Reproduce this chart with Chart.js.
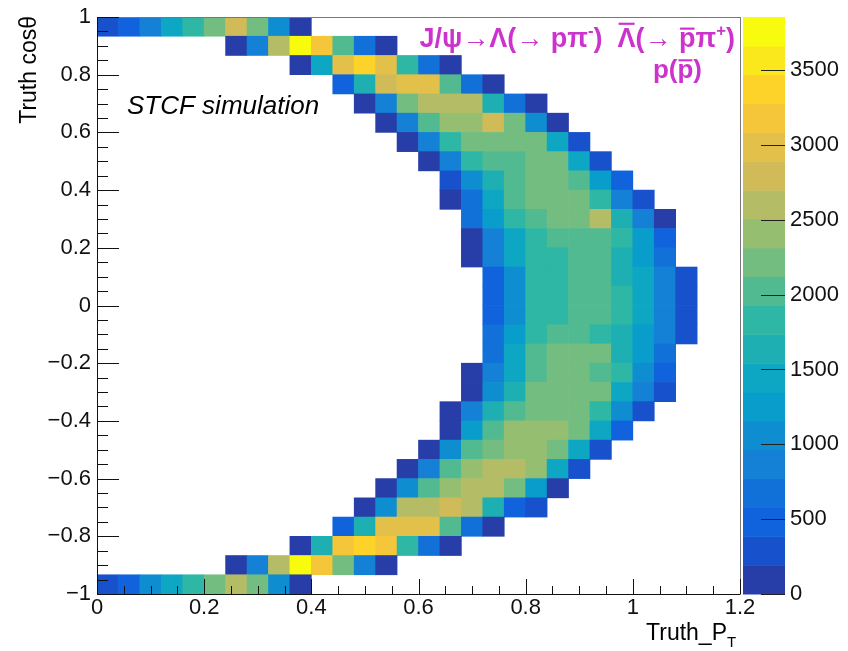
<!DOCTYPE html>
<html>
<head>
<meta charset="utf-8">
<script src="https://cdn.jsdelivr.net/npm/chart.js@4.4.0/dist/chart.umd.min.js"></script>
<style>
  html, body { margin: 0; padding: 0; background: #fff; }
</style>
</head>
<body>
<canvas id="histo" width="848" height="651"></canvas>
<script>
// histogram binning
const xMin = 0, xMax = 1.2, nX = 30;
const yMin = -1, yMax = 1, nY = 30;
const xTicks = [0, 0.2, 0.4, 0.6, 0.8, 1, 1.2];
const yTicks = [-1, -0.8, -0.6, -0.4, -0.2, 0, 0.2, 0.4, 0.6, 0.8, 1];
const zTicks = [0, 500, 1000, 1500, 2000, 2500, 3000, 3500];

// first filled P_T bin of every cos(theta) row, top row (cos near 1) first
const firstBin = [0, 6, 9, 11, 12, 13, 14, 15, 16, 16, 17, 17, 17, 18, 18,
                  18, 18, 18, 17, 17, 16, 16, 15, 14, 13, 12, 11, 9, 6, 0];

// bin contents of every row, starting at firstBin
const rowCounts = [
  [300, 480, 870, 1450, 1850, 2200, 2850, 2200, 1000, 100],
  [100, 900, 2600, 3855, 3100, 2050, 700, 120],
  [120, 1500, 3050, 3400, 3050, 1750, 650, 120],
  [400, 1650, 2850, 3050, 3050, 2050, 750, 130],
  [130, 950, 2250, 2550, 2600, 2550, 1650, 650, 140],
  [130, 950, 2000, 2400, 2450, 2700, 2250, 1000, 150],
  [140, 950, 1800, 2150, 2300, 2250, 2200, 1450, 200],
  [150, 950, 1750, 2050, 1950, 2250, 2250, 1350, 200],
  [350, 1100, 1700, 2050, 2250, 2250, 2000, 1300, 400],
  [120, 600, 1500, 1950, 2150, 2250, 2150, 1800, 950, 200],
  [700, 1200, 1850, 2100, 2150, 2150, 2550, 1600, 850, 150],
  [150, 900, 1500, 1900, 2050, 2050, 2050, 1800, 1200, 400],
  [160, 800, 1350, 1850, 1850, 2050, 2050, 1700, 1300, 650],
  [450, 1150, 1800, 1850, 1950, 2050, 1700, 1400, 900, 200],
  [450, 1150, 1800, 1850, 1950, 2050, 1750, 1450, 950, 200],
  [450, 1100, 1800, 1850, 1950, 2050, 1750, 1400, 900, 200],
  [700, 1300, 1850, 2050, 2050, 1800, 1700, 1300, 850, 200],
  [700, 1350, 1950, 2150, 2150, 2150, 1700, 1300, 700],
  [150, 900, 1500, 2050, 2150, 2150, 2050, 1850, 1050, 450],
  [150, 1000, 1650, 2200, 2250, 2250, 2150, 1450, 800, 200],
  [150, 800, 1700, 2050, 2150, 2150, 2150, 1850, 1000, 200],
  [150, 1200, 2050, 2350, 2350, 2350, 2150, 1450, 400],
  [150, 1000, 2050, 2250, 2350, 2350, 2250, 1400, 350],
  [150, 900, 1950, 2350, 2600, 2600, 2350, 1450, 300],
  [150, 1000, 2050, 2350, 2650, 2650, 2250, 1200, 150],
  [150, 1000, 2550, 2650, 2850, 2650, 1700, 550, 250],
  [400, 1700, 2950, 3050, 3050, 2050, 750, 150],
  [150, 1600, 3200, 3450, 3200, 1750, 650, 150],
  [150, 950, 2550, 3780, 3100, 2150, 850, 150],
  [300, 480, 1000, 1450, 1850, 2300, 2650, 2300, 1000, 150]
];

// kBird palette, 20 contour levels like ROOT's COLZ
const birdR = [0.2082, 0.0592, 0.0780, 0.0232, 0.1802, 0.5301, 0.8186, 0.9956, 0.9764];
const birdG = [0.1664, 0.3599, 0.5041, 0.6419, 0.7178, 0.7492, 0.7328, 0.7862, 0.9832];
const birdB = [0.5293, 0.8684, 0.8385, 0.7914, 0.6425, 0.4662, 0.3499, 0.1968, 0.0539];
const nLevels = 20;
const FONT = "'Liberation Sans', Arial, Helvetica, sans-serif";

const dx = (xMax - xMin) / nX;
const dy = (yMax - yMin) / nY;
const zMax = Math.max(...rowCounts.flat());

function birdColor(f) {
  const s = f * (birdR.length - 1);
  const i = Math.min(Math.floor(s), birdR.length - 2);
  const t = s - i;
  const mix = (arr) => Math.round(255 * (arr[i] + (arr[i + 1] - arr[i]) * t));
  return `rgb(${mix(birdR)},${mix(birdG)},${mix(birdB)})`;
}

function levelColor(b) {
  return birdColor(Math.floor((b + 0.99) * 255 / nLevels) / 254);
}

function cellColor(v) {
  return levelColor(Math.min(Math.floor(v / zMax * nLevels), nLevels - 1));
}

// one floating bar per filled bin
const cells = [];
rowCounts.forEach((row, r) => {
  const top = yMax - r * dy;
  row.forEach((v, k) => {
    const col = firstBin[r] + k;
    cells.push({ x: xMin + (col + 0.5) * dx, y: [top - dy, top], v: v });
  });
});

function fmt(v) {
  if (Math.abs(v) < 1e-9) return "0";
  return String(+v.toFixed(1)).replace("-", "\u2212");
}

// draw a run of text pieces, right aligned at x: [text, kind], kind "", "sup" or "bar"
function drawRich(ctx, parts, x, y, size, bold) {
  const weight = bold ? "bold " : "";
  const widths = parts.map(([t, kind]) => {
    ctx.font = weight + (kind === "sup" ? size * 0.62 : size) + "px " + FONT;
    return ctx.measureText(t).width;
  });
  const total = widths.reduce((a, b) => a + b, 0);
  let cx = x - total;
  ctx.textAlign = "left";
  ctx.textBaseline = "alphabetic";
  parts.forEach(([t, kind], i) => {
    ctx.font = weight + (kind === "sup" ? size * 0.62 : size) + "px " + FONT;
    const yy = kind === "sup" ? y - size * 0.42 : y;
    ctx.fillText(t, cx, yy);
    if (kind === "bar") {
      const h = /[a-z]/.test(t) ? size * 0.56 : size * 0.74;
      ctx.fillRect(cx + 1, y - h - size * 0.16, widths[i] - 2, Math.max(2, size * 0.08));
    }
    cx += widths[i];
  });
}

const rootFrame = {
  id: "rootFrame",
  afterDatasetsDraw(chart) {
    const { ctx, chartArea: a, scales: { x, y, z } } = chart;
    ctx.save();
    // frame
    ctx.strokeStyle = "#777";
    ctx.lineWidth = 1;
    ctx.strokeRect(a.left + 0.5, a.top + 0.5, a.right - a.left, a.bottom - a.top);
    ctx.strokeStyle = "#111";
    ctx.beginPath();
    ctx.moveTo(a.left + 0.5, a.top);
    ctx.lineTo(a.left + 0.5, a.bottom + 0.5);
    ctx.lineTo(a.right, a.bottom + 0.5);
    ctx.stroke();
    // ticks drawn inside, ROOT style
    ctx.beginPath();
    for (let i = 0; i <= 24; i++) {
      const px = Math.round(x.getPixelForValue(xMin + i * 0.05)) + 0.5;
      const len = i % 4 === 0 ? 15 : 8;
      ctx.moveTo(px, a.bottom);
      ctx.lineTo(px, a.bottom - len);
    }
    for (let i = 0; i <= 40; i++) {
      const py = Math.round(y.getPixelForValue(yMin + i * 0.05)) + 0.5;
      const len = i % 4 === 0 ? 22 : 11;
      ctx.moveTo(a.left, py);
      ctx.lineTo(a.left + len, py);
    }
    ctx.stroke();
    // colour palette
    const x0 = a.right + 3, x1 = a.right + 45;
    for (let b = 0; b < nLevels; b++) {
      const yb = z.getPixelForValue(b * zMax / nLevels);
      const yt = z.getPixelForValue((b + 1) * zMax / nLevels);
      ctx.fillStyle = levelColor(b);
      ctx.fillRect(x0, yt, x1 - x0, yb - yt + 0.5);
    }
    ctx.strokeStyle = "#222";
    ctx.beginPath();
    zTicks.forEach((v) => {
      const py = Math.round(z.getPixelForValue(v)) + 0.5;
      ctx.moveTo(x1 - 24, py);
      ctx.lineTo(x1, py);
    });
    ctx.stroke();
    ctx.restore();
  },
  afterDraw(chart) {
    const { ctx, chartArea: a } = chart;
    ctx.save();
    ctx.fillStyle = "#000";
    // y title, aligned to the top end of the axis
    ctx.translate(36, a.top - 1);
    ctx.rotate(-Math.PI / 2);
    ctx.font = "23px " + FONT;
    ctx.textAlign = "right";
    ctx.textBaseline = "alphabetic";
    ctx.fillText("Truth cos\u03b8", 0, 0);
    ctx.restore();

    ctx.save();
    ctx.fillStyle = "#000";
    drawRich(ctx, [["Truth_P", ""]], a.right - 13, 640, 23, false);
    ctx.font = "15px " + FONT;
    ctx.textAlign = "left";
    ctx.fillText("T", a.right - 13, 647);

    ctx.font = "italic 26px " + FONT;
    ctx.textAlign = "left";
    ctx.fillText("STCF simulation", 127, 114);

    ctx.fillStyle = "#cc33cc";
    drawRich(ctx, [
      ["J/\u03c8\u2192\u039b(\u2192 p\u03c0", ""], ["-", "sup"], [")  ", ""],
      ["\u039b", "bar"], ["(\u2192 ", ""], ["p", "bar"], ["\u03c0", ""], ["+", "sup"], [")", ""]
    ], a.right - 5, 47, 27, true);
    drawRich(ctx, [["p(", ""], ["p", "bar"], [")", ""]], 702, 78, 26, true);
    ctx.restore();
  }
};

new Chart(document.getElementById("histo"), {
  type: "bar",
  data: {
    datasets: [{
      data: cells,
      backgroundColor: (c) => (c.raw ? cellColor(c.raw.v) : "#fff"),
      borderWidth: 0,
      barPercentage: 1,
      categoryPercentage: 1
    }]
  },
  options: {
    responsive: false,
    animation: false,
    layout: { padding: { top: 17, left: 0, right: 0, bottom: 0 } },
    plugins: { legend: { display: false }, tooltip: { enabled: false } },
    scales: {
      x: {
        type: "linear", min: xMin, max: xMax, offset: false,
        grid: { display: false, drawTicks: true, tickLength: 1 },
        border: { display: false },
        afterBuildTicks: (s) => { s.ticks = xTicks.map((v) => ({ value: v })); },
        ticks: { callback: fmt, padding: 0, color: "#111", maxRotation: 0,
                 font: { family: FONT, size: 22 } },
        afterFit: (s) => { s.height = 57; }
      },
      y: {
        type: "linear", min: yMin, max: yMax,
        grid: { display: false, drawTicks: true, tickLength: 6 },
        border: { display: false },
        afterBuildTicks: (s) => { s.ticks = yTicks.map((v) => ({ value: v })); },
        ticks: { callback: fmt, padding: 0, color: "#111",
                 font: { family: FONT, size: 22 } },
        afterFit: (s) => { s.width = 97; }
      },
      z: {
        type: "linear", position: "right", min: 0, max: zMax,
        grid: { display: false, drawTicks: true, tickLength: 50 },
        border: { display: false },
        afterBuildTicks: (s) => { s.ticks = zTicks.map((v) => ({ value: v })); },
        ticks: { callback: (v) => String(v), padding: 0, color: "#111",
                 font: { family: FONT, size: 22 } },
        afterFit: (s) => { s.width = 108; }
      }
    }
  },
  plugins: [rootFrame]
});
</script>
</body>
</html>
